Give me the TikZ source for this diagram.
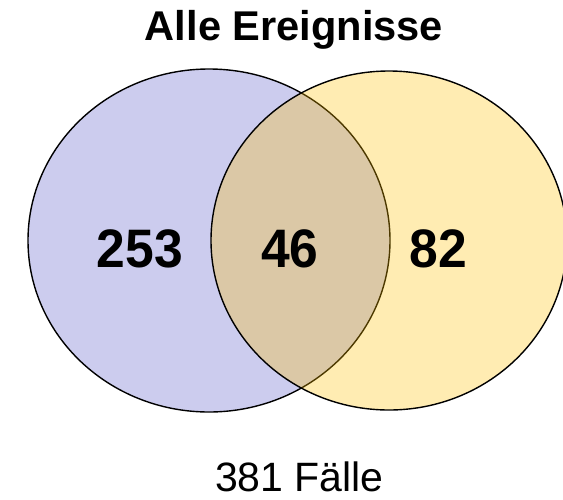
\documentclass[tikz,border=0pt]{standalone}
\usepackage{fontspec}
\usepackage{graphicx}
\setmainfont{Liberation Sans}
\usetikzlibrary{shapes.geometric}
\definecolor{lav}{RGB}{204,204,238}
\definecolor{gold}{RGB}{255,192,0}
\newcommand{\vstretch}[1]{\scalebox{1}[1.05]{#1}}
\tikzset{
  setL/.style={ellipse, draw=black, line width=1.4pt, fill=lav, inner sep=0pt, outer sep=0pt},
  setR/.style={ellipse, draw=black, line width=1.4pt, fill=gold, fill opacity=0.3, draw opacity=1, inner sep=0pt, outer sep=0pt},
  num/.style={anchor=base, inner sep=0pt, font=\fontsize{51.6}{60}\selectfont\bfseries},
  ttl/.style={anchor=base, inner sep=0pt, font=\fontsize{41.6}{50}\selectfont\bfseries},
  foot/.style={anchor=base, inner sep=0pt, font=\fontsize{41}{50}\selectfont},
}
\begin{document}
\begin{tikzpicture}[x=1pt,y=-1pt]
\useasboundingbox (0,0) rectangle (563,499);
\node[setL, minimum width=362pt, minimum height=343pt] (L) at (209,240.5) {};
\node[setR, minimum width=356pt, minimum height=339pt] (R) at (389,240.5) {};
\node[num] (a) at (140,267) {\vstretch{253}};
\node[num] (b) at (290,267) {\vstretch{46}};
\node[num] (c) at (438.5,267) {\vstretch{82}};
\node[ttl] (t) at (294,40) {Alle Ereignisse};
\node[foot] (f) at (299.5,491) {381 Fälle};
\end{tikzpicture}
\end{document}
